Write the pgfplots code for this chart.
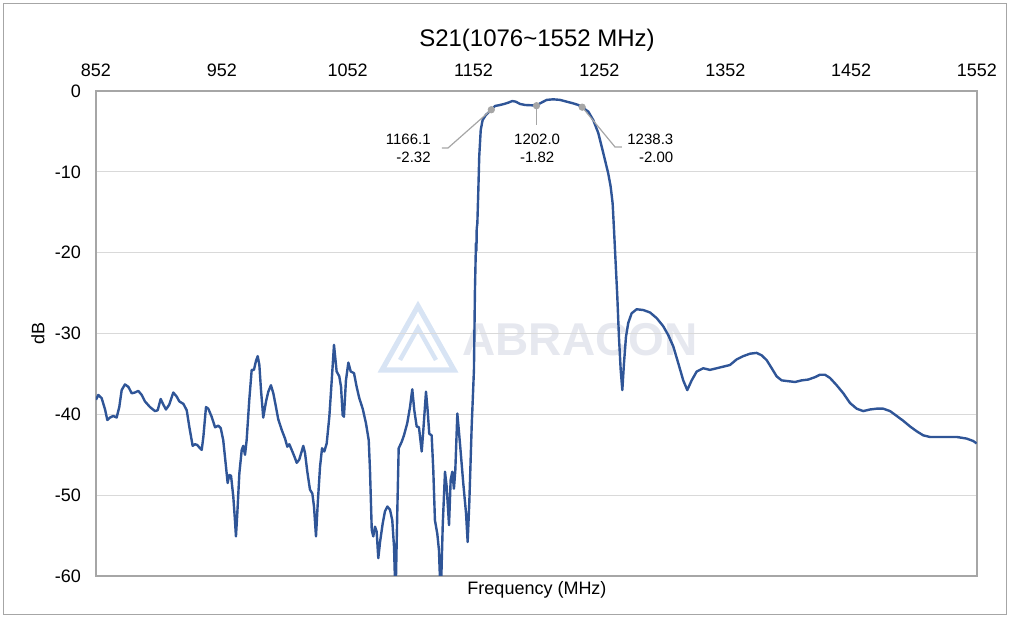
\documentclass[border=0pt]{standalone}
\usepackage{fontspec}
\setmainfont{Liberation Sans}
\usepackage{pgfplots}
\pgfplotsset{compat=1.18}
\definecolor{curve}{HTML}{2F5597}
\definecolor{wmtext}{HTML}{E6E8EF}
\definecolor{wmlogo}{HTML}{D8E4F4}
\definecolor{gridc}{HTML}{D9D9D9}
\definecolor{axisc}{HTML}{A6A6A6}
\begin{document}
\begin{tikzpicture}
\path[use as bounding box] (-48pt,-21.5pt) rectangle (457pt,288pt);
\draw[axisc, line width=0.5pt] (-46pt,-19.5pt) rectangle (455pt,286pt);
% watermark
\draw[wmlogo, line width=2.6pt, line join=miter] (143pt,103pt) -- (161pt,135pt) -- (179pt,103pt) -- cycle;
\draw[wmlogo, line width=2.2pt] (152pt,108pt) -- (161pt,124pt) -- (170pt,108pt);
\node[wmtext, font=\bfseries\fontsize{23}{23}\selectfont, inner sep=0pt] at (242pt,118pt) {ABRACON};
\begin{axis}[
  scale only axis, width=440.5pt, height=242.5pt,
  at={(0pt,0pt)}, anchor=south west,
  xmin=852, xmax=1552, ymin=-60, ymax=0,
  xtick={852,952,1052,1152,1252,1352,1452,1552},
  ytick={-60,-50,-40,-30,-20,-10,0},
  xticklabel pos=upper,
  major tick length=0pt,
  ymajorgrids, grid style={gridc, line width=0.6pt},
  axis line style={axisc, line width=0.6pt},
  ticklabel style={font=\fontsize{9}{10}\selectfont},
  /pgf/number format/assume math mode=true,
  /pgf/number format/1000 sep={},
  xticklabel style={yshift=3.5pt},
  yticklabel style={xshift=-4pt},
  clip=true,
]
\addplot[curve, line width=1.2pt, line join=round] coordinates {
(852.0,-38.2)(853.8,-37.6)(856.5,-38.0)(859.2,-39.4)(861.0,-40.7)(863.1,-40.4)(865.7,-40.2)(868.4,-40.4)
(870.5,-39.1)(872.4,-37.0)(875.0,-36.3)(877.7,-36.6)(880.4,-37.4)(883.0,-37.3)(885.6,-37.1)(888.3,-37.6)
(890.9,-38.4)(894.9,-39.1)(898.9,-39.6)(901.0,-39.5)(903.4,-38.1)(905.5,-38.8)(907.6,-39.4)(910.2,-38.8)
(913.4,-37.3)(916.1,-37.8)(918.2,-38.4)(921.4,-38.7)(924.1,-39.5)(926.1,-41.5)(928.8,-43.9)(930.7,-43.7)
(932.5,-43.8)(934.1,-44.1)(936.0,-44.4)(937.3,-42.8)(939.4,-39.1)(941.2,-39.3)(943.9,-40.3)(946.6,-41.6)
(949.2,-41.4)(951.1,-41.7)(953.1,-43.2)(955.3,-46.5)(956.6,-48.5)(957.9,-47.5)(959.3,-47.6)(961.1,-50.2)
(962.4,-53.1)(963.2,-55.1)(964.3,-52.2)(965.9,-47.3)(967.8,-44.4)(969.0,-43.9)(970.4,-45.0)(971.7,-43.2)
(973.8,-38.2)(975.7,-34.5)(977.5,-34.5)(979.1,-33.4)(980.5,-32.8)(981.8,-33.9)(983.1,-37.0)(984.9,-40.4)
(987.1,-38.4)(988.9,-37.2)(991.0,-36.4)(992.9,-37.4)(995.0,-39.1)(996.8,-40.6)(999.5,-41.9)(1002.2,-43.0)
(1004.0,-44.0)(1005.6,-43.7)(1007.5,-44.4)(1009.6,-45.2)(1011.5,-46.0)(1013.5,-45.6)(1015.4,-44.6)(1016.7,-43.9)
(1018.1,-44.8)(1019.9,-47.1)(1022.0,-49.3)(1023.9,-49.8)(1025.2,-51.4)(1026.8,-55.1)(1028.2,-51.0)(1030.0,-46.5)
(1031.6,-44.2)(1033.4,-44.6)(1035.3,-43.6)(1037.4,-40.3)(1039.3,-35.8)(1041.1,-31.4)(1043.2,-34.7)(1045.3,-35.3)
(1046.7,-36.6)(1048.0,-40.1)(1049.0,-40.3)(1050.6,-35.8)(1052.5,-33.6)(1054.4,-34.7)(1057.0,-34.9)(1059.1,-36.6)
(1061.2,-38.0)(1063.9,-39.3)(1066.5,-41.1)(1068.7,-43.2)(1069.7,-46.9)(1071.1,-54.3)(1072.3,-55.1)(1073.7,-53.9)
(1075.0,-54.5)(1076.3,-57.8)(1077.7,-55.8)(1079.8,-53.5)(1081.6,-52.0)(1083.5,-51.4)(1085.6,-51.8)(1087.4,-53.1)
(1088.8,-56.4)(1090.0,-63.0)(1091.4,-52.0)(1092.5,-44.2)(1094.9,-43.4)(1096.7,-42.6)(1099.3,-41.1)(1101.5,-39.1)
(1103.3,-36.9)(1104.9,-39.5)(1106.8,-41.5)(1108.6,-41.6)(1110.8,-44.6)(1112.1,-41.9)(1114.2,-37.2)(1115.5,-39.5)
(1116.8,-42.4)(1118.7,-42.6)(1120.0,-46.9)(1121.3,-53.1)(1123.2,-54.8)(1124.5,-56.8)(1125.9,-63.0)(1127.5,-53.7)
(1129.3,-47.1)(1130.6,-48.9)(1132.5,-53.7)(1133.8,-48.1)(1135.1,-47.1)(1136.4,-49.2)(1137.5,-46.9)(1139.1,-39.9)
(1141.2,-43.6)(1143.8,-48.5)(1146.0,-52.2)(1147.3,-55.8)(1148.6,-51.0)(1150.5,-41.5)(1152.3,-34.5)(1153.1,-24.6)
(1153.9,-18.8)(1154.3,-19.8)(1154.5,-17.0)(1155.0,-16.4)(1155.8,-12.2)(1156.5,-8.1)(1157.7,-4.8)(1159.2,-3.6)
(1161.6,-3.0)(1166.1,-2.32)(1169.0,-1.86)(1173.0,-1.73)(1176.4,-1.6)(1179.6,-1.44)(1182.8,-1.24)(1185.5,-1.32)
(1188.9,-1.6)(1192.9,-1.73)(1199.5,-1.78)(1202.0,-1.82)(1204.8,-1.53)(1210.1,-1.1)(1215.3,-1.03)(1220.7,-1.1)
(1226.0,-1.32)(1231.2,-1.53)(1235.2,-1.73)(1238.3,-2.00)(1243.2,-2.56)(1247.1,-3.6)(1251.1,-5.2)(1255.1,-7.7)
(1259.0,-10.2)(1260.9,-11.8)(1262.5,-13.9)(1263.6,-17.2)(1264.9,-21.3)(1266.2,-25.4)(1267.5,-30.4)(1268.9,-34.5)
(1270.2,-37.0)(1271.5,-33.7)(1273.1,-30.4)(1274.9,-28.7)(1277.6,-27.5)(1281.6,-27.0)(1286.9,-27.1)(1292.2,-27.4)
(1297.5,-28.1)(1302.7,-29.1)(1306.7,-30.2)(1310.7,-31.6)(1314.7,-33.7)(1318.6,-35.8)(1321.8,-37.0)(1325.3,-35.8)
(1329.3,-34.7)(1334.5,-34.3)(1339.8,-34.5)(1345.2,-34.3)(1350.4,-34.1)(1355.7,-33.9)(1361.1,-33.2)(1366.3,-32.8)
(1371.6,-32.5)(1376.9,-32.4)(1380.9,-32.7)(1384.9,-33.3)(1388.9,-34.3)(1392.8,-35.3)(1396.8,-35.8)(1402.1,-35.9)
(1407.4,-36.0)(1412.7,-35.8)(1417.9,-35.7)(1423.3,-35.4)(1427.2,-35.1)(1431.2,-35.1)(1435.2,-35.5)(1440.5,-36.4)
(1445.8,-37.4)(1451.1,-38.6)(1456.4,-39.3)(1461.6,-39.6)(1467.0,-39.4)(1472.3,-39.3)(1477.5,-39.3)(1482.9,-39.6)
(1488.2,-40.2)(1493.4,-40.8)(1498.8,-41.5)(1504.1,-42.1)(1509.3,-42.6)(1514.6,-42.8)(1520.0,-42.8)(1527.9,-42.8)
(1535.9,-42.8)(1543.8,-43.0)(1549.0,-43.3)(1551.7,-43.6)
};
\draw[axisc, line width=0.6pt] (axis cs:1166.1,-2.32) -- (axis cs:1131.7,-7.05) -- (axis cs:1126.9,-7.05);
\draw[axisc, line width=0.6pt] (axis cs:1202.0,-1.82) -- (axis cs:1202.0,-4.2);
\draw[axisc, line width=0.6pt] (axis cs:1238.3,-2.00) -- (axis cs:1264.4,-6.93) -- (axis cs:1269.9,-6.93);
\addplot[only marks, mark=*, mark size=1.6pt, color=axisc] coordinates {(1166.1,-2.32)(1202.0,-1.82)(1238.3,-2.00)};
\node[anchor=east, align=right, inner sep=0pt, font=\fontsize{7.5}{8.7}\selectfont] at (axis cs:1118.2,-7.11) {1166.1\\-2.32};
\node[anchor=center, align=center, inner sep=0pt, font=\fontsize{7.5}{8.7}\selectfont] at (axis cs:1202.5,-7.11) {1202.0\\-1.82};
\node[anchor=west, align=right, inner sep=0pt, font=\fontsize{7.5}{8.7}\selectfont] at (axis cs:1273.9,-7.11) {1238.3\\-2.00};
\end{axis}
\node[font=\fontsize{12}{14}\selectfont] at (220.5pt,268pt) {S21(1076\textasciitilde1552 MHz)};
\node[font=\fontsize{9}{10}\selectfont] at (220.5pt,-7pt) {Frequency (MHz)};
\node[rotate=90, font=\fontsize{9}{10}\selectfont] at (-29pt,121.25pt) {dB};
\end{tikzpicture}
\end{document}
